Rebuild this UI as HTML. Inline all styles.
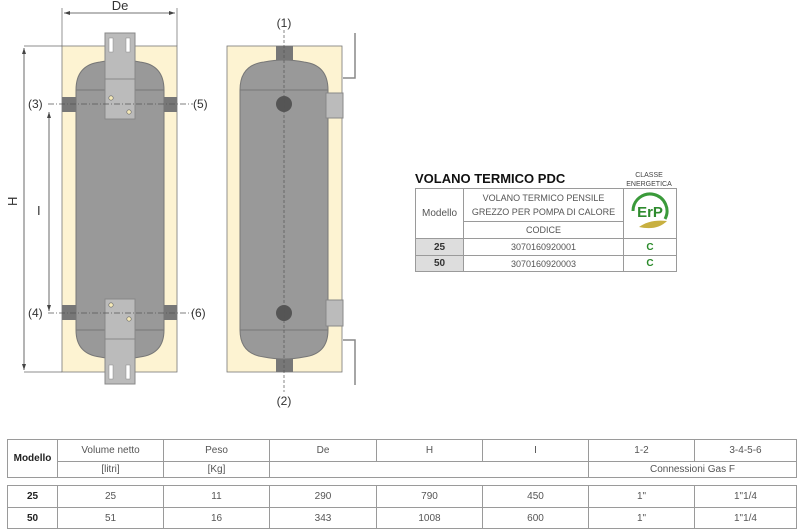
<!DOCTYPE html>
<html><head><style>
body{margin:0;background:#fff;width:800px;height:532px;overflow:hidden;position:relative;font-family:"Liberation Sans",sans-serif;}
table{border-collapse:collapse;position:absolute;}
td{border:1px solid #9a9a9a;text-align:center;color:#555;font-size:10px;padding:0;}
</style></head><body>
<svg width="800" height="420" style="position:absolute;left:0;top:0" font-family="Liberation Sans" font-size="12" fill="#333">
<line x1="62" y1="8" x2="62" y2="46" stroke="#666" stroke-width="0.7"/>
<line x1="177" y1="8" x2="177" y2="46" stroke="#666" stroke-width="0.7"/>
<line x1="64" y1="13" x2="175" y2="13" stroke="#444" stroke-width="0.8"/>
<path d="M64 13l6-2v4zM175 13l-6-2v4z" fill="#444"/>
<text x="120" y="10" text-anchor="middle" font-size="13">De</text>
<rect x="62" y="46" width="115" height="326" fill="#fdf3d2" stroke="#777" stroke-width="0.8"/>
<path d="M76 90 Q76 65 100 62 Q120 58 140 62 Q164 65 164 90 L164 330 Q164 354 140 357 Q120 361 100 357 Q76 354 76 330Z" fill="#999" stroke="#777"/>
<line x1="76" y1="90" x2="164" y2="90" stroke="#777"/><line x1="76" y1="330" x2="164" y2="330" stroke="#777"/>
<rect x="62" y="97" width="14" height="15" fill="#777"/><rect x="164" y="97" width="13" height="15" fill="#777"/>
<rect x="62" y="305" width="14" height="15" fill="#777"/><rect x="164" y="305" width="13" height="15" fill="#777"/>
<rect x="105" y="33" width="30" height="86" fill="#bbb" stroke="#888"/><line x1="105" y1="79" x2="135" y2="79" stroke="#888"/>
<rect x="105" y="299" width="30" height="85" fill="#bbb" stroke="#888"/><line x1="105" y1="339" x2="135" y2="339" stroke="#888"/>
<g fill="#fff" stroke="#888" stroke-width="0.5"><rect x="109" y="38" width="4" height="14"/><rect x="126" y="38" width="4" height="14"/><rect x="109" y="365" width="4" height="14"/><rect x="126" y="365" width="4" height="14"/></g>
<g fill="#f5e9b8" stroke="#666" stroke-width="0.6"><circle cx="111" cy="98" r="2.2"/><circle cx="129" cy="112" r="2.2"/><circle cx="111" cy="305" r="2.2"/><circle cx="129" cy="319" r="2.2"/></g>
<line x1="48" y1="104" x2="193" y2="104" stroke="#555" stroke-width="0.7" stroke-dasharray="6,2,1,2"/>
<line x1="48" y1="313" x2="193" y2="313" stroke="#555" stroke-width="0.7" stroke-dasharray="6,2,1,2"/>
<line x1="24" y1="46" x2="62" y2="46" stroke="#666" stroke-width="0.7"/><line x1="24" y1="372" x2="62" y2="372" stroke="#666" stroke-width="0.7"/>
<line x1="24" y1="48" x2="24" y2="370" stroke="#444" stroke-width="0.8"/>
<path d="M24 48l-2 6h4zM24 370l-2-6h4z" fill="#444"/>
<line x1="49" y1="112" x2="49" y2="311" stroke="#444" stroke-width="0.8"/>
<path d="M49 112l-2 6h4zM49 311l-2-6h4z" fill="#444"/>
<text x="21" y="210" transform="rotate(-90 17 210)" font-size="13">H</text>
<text x="37" y="215" font-size="13">I</text>
<text x="28" y="108">(3)</text><text x="193" y="108">(5)</text>
<text x="28" y="317">(4)</text><text x="191" y="317">(6)</text>
<rect x="227" y="46" width="115" height="326" fill="#fdf3d2" stroke="#777" stroke-width="0.8"/>
<rect x="276" y="46" width="17" height="16" fill="#777"/><rect x="276" y="357" width="17" height="15" fill="#777"/>
<path d="M240 90 Q240 65 264 62 Q284 58 304 62 Q328 65 328 90 L328 330 Q328 354 304 357 Q284 361 264 357 Q240 354 240 330Z" fill="#999" stroke="#777"/>
<line x1="240" y1="90" x2="328" y2="90" stroke="#777"/><line x1="240" y1="330" x2="328" y2="330" stroke="#777"/>
<circle cx="284" cy="104" r="8" fill="#555"/><circle cx="284" cy="313" r="8" fill="#555"/>
<rect x="326" y="93" width="17" height="25" fill="#bbb" stroke="#888"/><rect x="326" y="300" width="17" height="26" fill="#bbb" stroke="#888"/>
<line x1="284" y1="30" x2="284" y2="392" stroke="#555" stroke-width="0.7" stroke-dasharray="3,2"/>
<polyline points="355,33 355,78 343,78" fill="none" stroke="#888" stroke-width="1.5"/>
<polyline points="343,340 355,340 355,385" fill="none" stroke="#888" stroke-width="1.5"/>
<text x="284" y="27" text-anchor="middle">(1)</text><text x="284" y="405" text-anchor="middle">(2)</text>
<text x="415" y="183" font-size="13" font-weight="bold" fill="#111">VOLANO TERMICO PDC</text>
<text x="649" y="177" text-anchor="middle" font-size="7" fill="#444">CLASSE</text>
<text x="649" y="186" text-anchor="middle" font-size="7" fill="#444">ENERGETICA</text>
</svg>
<table style="left:415px;top:188px;width:261px;table-layout:fixed;">
<tr style="height:32px"><td rowspan="2" style="width:47px">Modello</td><td style="width:159px;line-height:14px;font-size:9px;white-space:nowrap;overflow:hidden">VOLANO TERMICO PENSILE<br>GREZZO PER POMPA DI CALORE</td><td rowspan="2" style="width:52px">
<svg width="50" height="46"><path d="M8 22 A17 17 0 1 1 40 30" fill="none" stroke="#3a9a3a" stroke-width="3"/><text x="25" y="28" text-anchor="middle" font-size="15" font-weight="bold" fill="#2e8b2e" font-family="Liberation Sans">ErP</text><path d="M14 38 Q25 30 42 32 Q32 42 14 38Z" fill="#c8b040"/></svg></td></tr>
<tr style="height:17px"><td style="font-size:9px">CODICE</td></tr>
<tr style="height:17px"><td style="background:#ddd;font-weight:bold;color:#333">25</td><td style="font-size:9px">3070160920001</td><td style="color:#2a8a2a;font-weight:bold">C</td></tr>
<tr style="height:16px"><td style="background:#ddd;font-weight:bold;color:#333">50</td><td style="font-size:9px">3070160920003</td><td style="color:#2a8a2a;font-weight:bold">C</td></tr>
</table>
<table style="left:7px;top:439px;width:790px;">
<tr style="height:22px"><td rowspan="2" style="width:49px;font-weight:bold;color:#222">Modello</td><td style="width:105px">Volume netto</td><td style="width:105px">Peso</td><td style="width:106px">De</td><td style="width:105px">H</td><td style="width:105px">I</td><td style="width:105px">1-2</td><td>3-4-5-6</td></tr>
<tr style="height:16px"><td>[litri]</td><td>[Kg]</td><td colspan="3"></td><td colspan="2">Connessioni Gas F</td></tr>
</table>
<table style="left:7px;top:485px;width:790px;">
<tr style="height:22px"><td style="width:49px;font-weight:bold;color:#222">25</td><td style="width:105px">25</td><td style="width:105px">11</td><td style="width:106px">290</td><td style="width:105px">790</td><td style="width:105px">450</td><td style="width:105px">1"</td><td>1"1/4</td></tr>
<tr style="height:21px"><td style="font-weight:bold;color:#222">50</td><td>51</td><td>16</td><td>343</td><td>1008</td><td>600</td><td>1"</td><td>1"1/4</td></tr>
</table>
</body></html>
